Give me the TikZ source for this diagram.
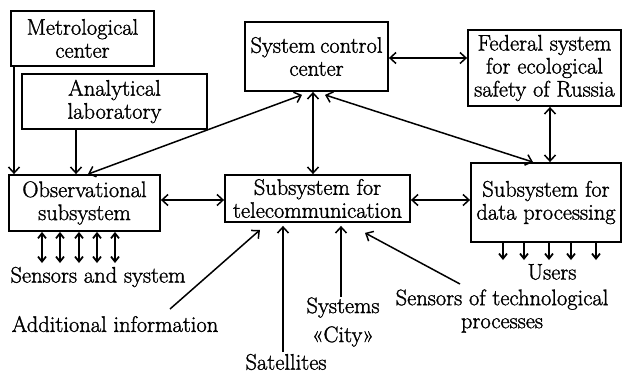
\documentclass[tikz,border=0pt]{standalone}
\usepackage{fontspec}
\usetikzlibrary{arrows.meta,calc}
\newfontfamily\dfam{Latin Modern Roman}[FakeBold=1.4]
\newcommand\dfont{\dfam\fontsize{22.5}{23}\selectfont}
\begin{document}
\begin{tikzpicture}[x=1pt,y=-1pt,
  box/.style={draw,line width=1.8pt,inner sep=0pt,align=center,font=\dfont},
  lbl/.style={inner sep=0pt,align=center,font=\dfont},
  conn/.style={line width=1.5pt,-{Straight Barb[length=6pt,width=11pt,line width=1.5pt]}},
  dconn/.style={line width=1.5pt,{Straight Barb[length=6pt,width=11pt,line width=1.5pt]}-{Straight Barb[length=6pt,width=11pt,line width=1.5pt]}},
  sconn/.style={line width=1.8pt,{Straight Barb[length=5pt,width=8pt,line width=1.8pt]}-{Straight Barb[length=5pt,width=8pt,line width=1.8pt]}},
  uconn/.style={line width=1.8pt,-{Straight Barb[length=5pt,width=8pt,line width=1.8pt]}}]
\useasboundingbox (0,0) rectangle (622,376);
% boxes
\node[box,minimum width=143pt,minimum height=55pt] (met) at (82.5,38.5) {Metrological\\center};
\node[box,minimum width=185pt,minimum height=55pt] (ana) at (114.5,101.5) {Analytical\\laboratory};
\node[box,minimum width=151pt,minimum height=56pt] (obs) at (84.5,203) {Observational\\subsystem};
\node[box,minimum width=143pt,minimum height=69pt] (scc) at (316.5,56.5) {System\hspace{-2pt} control\\center};
\node[box,minimum width=185pt,minimum height=47pt] (tel) at (317.5,198.5) {Subsystem for\\telecommunication};
\node[box,minimum width=153pt,minimum height=76pt] (fed) at (544.5,68) {Federal system\\for ecological\\safety of Russia};
\node[box,minimum width=150pt,minimum height=79pt] (dp) at (546,202.5) {Subsystem for\\data processing};
% labels
\node[lbl] (sens) at (98,277) {Sensors and system};
\node[lbl] (users) at (552,272) {Users};
\node[lbl] (add) at (115,324) {Additional information};
\node[lbl] (sat) at (286,362) {Satellites};
\node[lbl] (city) at (343,322) {Systems\\[6pt]«City»};
\node[lbl] (sens2) at (502,311) {Sensors of technological\\processes};
% connectors between boxes
\draw[conn] (met.south -| 14,0) -- (obs.north -| 14,0);
\draw[conn] (ana.south -| 76,0) -- (obs.north -| 76,0);
\draw[dconn] (obs.north -| 88,0) -- ($(scc.south -| 302,0)+(0,3)$);
\draw[dconn] (scc.south -| 313,0) -- (tel.north -| 313,0);
\draw[dconn] ($(scc.south -| 325,0)+(0,3)$) -- (dp.north -| 533,0);
\draw[dconn] (scc.east |- 0,58) -- (fed.west |- 0,58);
\draw[dconn] (fed.south -| 550,0) -- (dp.north -| 550,0);
\draw[dconn] (obs.east |- 0,200) -- (tel.west |- 0,200);
\draw[dconn] (tel.east |- 0,200) -- (dp.west |- 0,200);
% sensors and users
\foreach \x [count=\i] in {42,60,79,97,115} {
  \coordinate (s\i) at (\x,263);
  \draw[sconn] (obs.south -| s\i) -- (s\i);
}
\foreach \x [count=\i] in {503,524,549,571,596} {
  \coordinate (u\i) at (\x,260);
  \draw[uconn] (dp.south -| u\i) -- (u\i);
}
% inputs to telecommunication
\coordinate (a1) at (170,309);
\coordinate (a2) at (283,352);
\coordinate (a3) at (341,297);
\coordinate (a4) at (460,284);
\draw[conn] (a1) -- ($(tel.south -| 260,0)+(0,7)$);
\draw[conn] (a2) -- ($(tel.south -| a2)+(0,3)$);
\draw[conn] (a3) -- ($(tel.south -| a3)+(0,3)$);
\draw[conn] (a4) -- ($(tel.south -| 365,0)+(0,10)$);
\end{tikzpicture}
\end{document}
